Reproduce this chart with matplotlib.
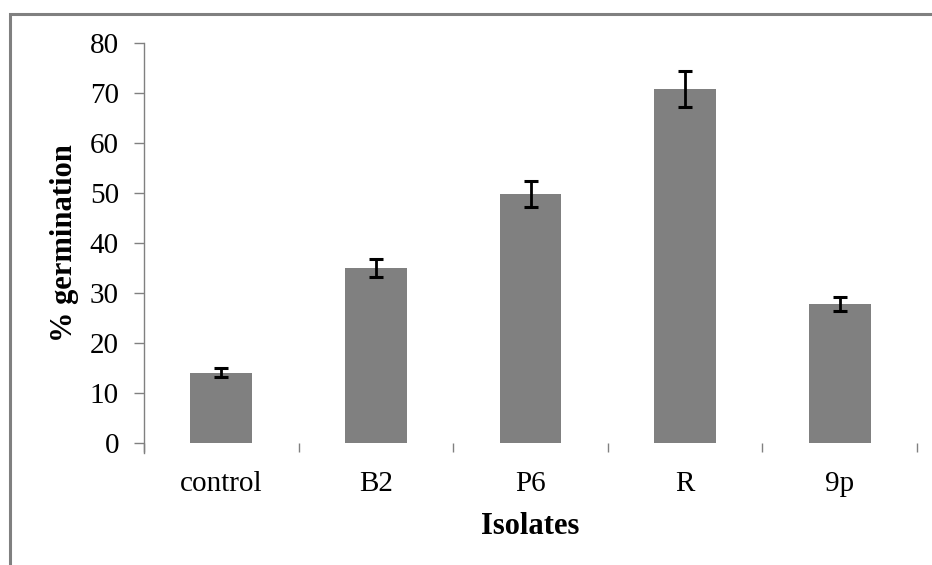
import numpy as np
import matplotlib.pyplot as plt
from matplotlib.patches import Rectangle

isolates = ["control", "B2", "P6", "R", "9p"]
germination = [14.1, 35.1, 49.9, 70.9, 27.9]
errors = [0.9, 1.85, 2.55, 3.6, 1.4]
y_ticks = [0, 10, 20, 30, 40, 50, 60, 70, 80]

GRAY = "#808080"

plt.rcParams["font.family"] = ["Liberation Serif", "DejaVu Serif"]

fig = plt.figure(figsize=(9.32, 5.65), dpi=100)
ax = fig.add_axes([144 / 932, 1 - 443.3 / 565, (917 - 144) / 932, 400 / 565])

# outer frame of the chart area (right and bottom edges fall off the image)
fig.patches.append(Rectangle((10 / 932, -0.1), 1.2, 1 - 14 / 565 + 0.1,
                             transform=fig.transFigure, fill=False,
                             edgecolor=GRAY, linewidth=2.2))

x = np.arange(len(isolates))
ax.bar(x, germination, width=0.4, color=GRAY, zorder=2)
ax.errorbar(x, germination, yerr=errors, fmt="none", ecolor="black",
            elinewidth=2, capsize=4.7, capthick=2.2, zorder=3)

ax.set_xlim(-0.5, len(isolates) - 0.5)
ax.set_ylim(0, 80)
ax.set_yticks(y_ticks)
ax.set_xticks(x)
ax.set_xticklabels(isolates)
ax.set_xticks(np.arange(len(isolates) + 1) - 0.5, minor=True)

for side in ["top", "right", "bottom"]:
    ax.spines[side].set_visible(False)
ax.spines["left"].set_color(GRAY)
ax.spines["left"].set_linewidth(1.0)
ax.spines["left"].set_bounds(-1.9, 80)

ax.tick_params(axis="y", direction="out", length=7, width=1, color=GRAY,
               labelsize=21, pad=11)
ax.tick_params(axis="x", which="major", length=0, labelsize=21, pad=20)
ax.tick_params(axis="x", which="minor", direction="out", length=6.5,
               width=1, color=GRAY)

ax.set_xlabel("Isolates", fontsize=22, fontweight="bold", labelpad=11)
ax.set_ylabel("% germination", fontsize=22, fontweight="bold", labelpad=7.7)

fig.savefig("out.png", dpi=100)
